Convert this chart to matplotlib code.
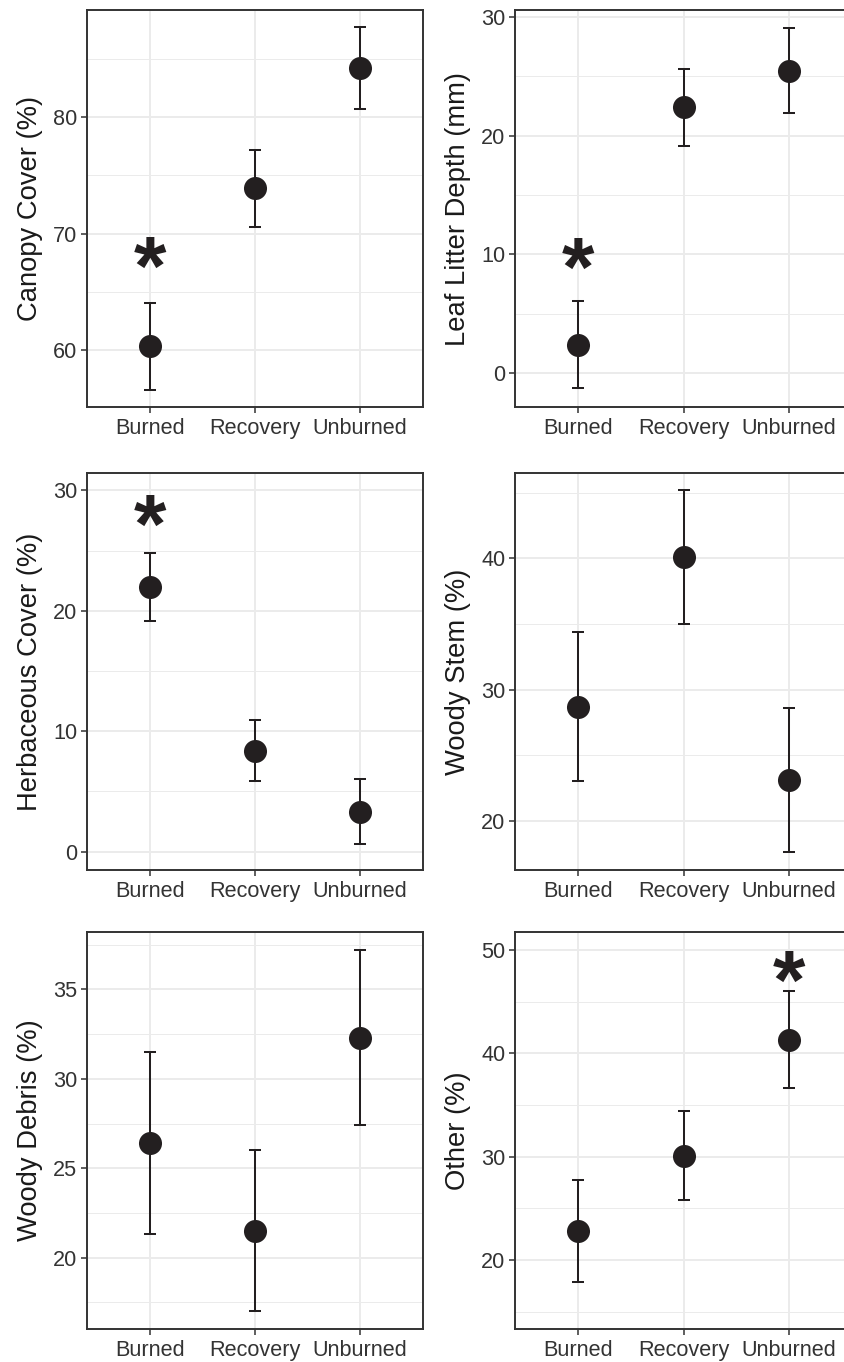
import matplotlib
matplotlib.use("Agg")
import matplotlib.pyplot as plt
from matplotlib.ticker import MultipleLocator, FixedLocator

plt.rcParams['font.family'] = ['Liberation Sans', 'DejaVu Sans']

# ---------------- data ----------------
groups = ["Burned", "Recovery", "Unburned"]

canopy_mean = [60.3, 73.9, 84.2]
canopy_low = [56.6, 70.6, 80.7]
canopy_high = [64.0, 77.2, 87.7]

litter_mean = [2.4, 22.4, 25.5]
litter_low = [-1.3, 19.1, 21.9]
litter_high = [6.1, 25.6, 29.1]

herb_mean = [22.0, 8.4, 3.3]
herb_low = [19.2, 5.9, 0.6]
herb_high = [24.8, 10.9, 6.0]

stem_mean = [28.7, 40.1, 23.1]
stem_low = [23.0, 35.0, 17.6]
stem_high = [34.4, 45.2, 28.6]

debris_mean = [26.4, 21.5, 32.3]
debris_low = [21.3, 17.0, 27.4]
debris_high = [31.5, 26.0, 37.2]

other_mean = [22.8, 30.1, 41.3]
other_low = [17.9, 25.8, 36.6]
other_high = [27.7, 34.4, 46.0]

ylabels = ["Canopy Cover (%)", "Leaf Litter Depth (mm)", "Herbaceous Cover (%)",
           "Woody Stem (%)", "Woody Debris (%)", "Other (%)"]

# significance markers: (group index, y value) or None
sig_group = [0, 0, 0, None, None, 2]
sig_y = [68.8, 10.5, 28.7, None, None, 48.9]

yticks = [[60, 70, 80], [0, 10, 20, 30], [0, 10, 20, 30],
          [20, 30, 40], [20, 25, 30, 35], [20, 30, 40, 50]]
ylims = [(55.1, 89.2), (-2.86, 30.6), (-1.52, 31.47),
         (16.25, 46.53), (16.0, 38.22), (13.29, 51.77)]

means = [canopy_mean, litter_mean, herb_mean, stem_mean, debris_mean, other_mean]
lows = [canopy_low, litter_low, herb_low, stem_low, debris_low, other_low]
highs = [canopy_high, litter_high, herb_high, stem_high, debris_high, other_high]

# ---------------- layout ----------------
W, H = 844, 1362
fig = plt.figure(figsize=(W / 100, H / 100), dpi=100)
fig.patch.set_facecolor("white")

col_x = [(86.7, 422.5), (515.0, 852.5)]
row_y = [(10.0, 407.0), (472.8, 870.0), (931.7, 1329.3)]

ink = "#231f20"
frame = "#333333"
grid_c = "#ebebeb"

for i in range(6):
    r, c = divmod(i, 2)
    x0, x1 = col_x[c]
    yt, yb = row_y[r]
    ax = fig.add_axes([x0 / W, 1 - yb / H, (x1 - x0) / W, (yb - yt) / H])

    xs = list(range(1, len(groups) + 1))
    m = means[i]
    lo = [m[k] - lows[i][k] for k in range(3)]
    hi = [highs[i][k] - m[k] for k in range(3)]
    ax.errorbar(xs, m, yerr=[lo, hi], fmt="none", ecolor=ink, elinewidth=1.45,
                capsize=4.0, capthick=1.45, zorder=3)
    ax.plot(xs, m, "o", color=ink, markersize=16.6, markeredgewidth=0, zorder=4)

    if sig_group[i] is not None:
        ax.annotate("*", xy=(xs[sig_group[i]], sig_y[i]), xytext=(0, -34),
                    textcoords="offset points", ha="center", va="baseline",
                    fontsize=60, fontweight="bold", color=ink, zorder=5)

    ax.set_xlim(0.4, 3.6)
    ax.set_ylim(*ylims[i])
    ax.xaxis.set_major_locator(FixedLocator(xs))
    ax.set_xticklabels(groups)
    ax.yaxis.set_major_locator(FixedLocator(yticks[i]))
    step = yticks[i][1] - yticks[i][0]
    ax.yaxis.set_minor_locator(MultipleLocator(step / 2))

    ax.grid(True, which="major", color=grid_c, linewidth=1.4, zorder=0)
    ax.grid(True, which="minor", axis="y", color=grid_c, linewidth=0.7, zorder=0)
    ax.set_axisbelow(True)

    for s in ax.spines.values():
        s.set_color(frame)
        s.set_linewidth(1.4)

    ax.tick_params(axis="both", which="major", length=4.5, width=1.1, color=frame,
                   labelsize=15.6, labelcolor="#333333")
    ax.tick_params(axis="x", pad=3.4)
    ax.tick_params(axis="y", pad=2.4)
    ax.tick_params(axis="y", which="minor", length=0)

    ax.set_ylabel(ylabels[i], fontsize=19.7, color="#1a1a1a", labelpad=7)

fig.savefig("out.png", dpi=100, facecolor="white")
